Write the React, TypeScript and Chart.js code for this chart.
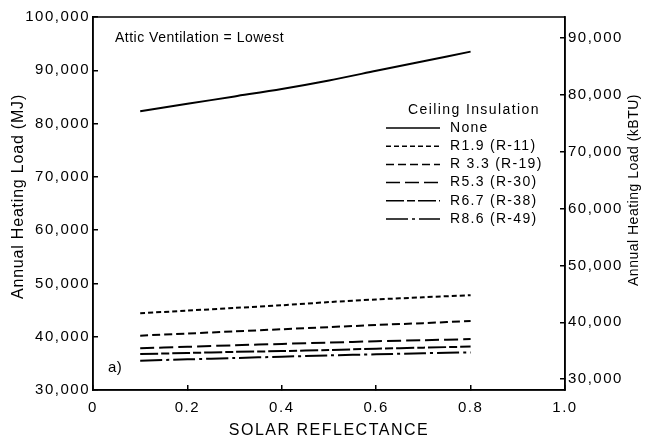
import React, { useEffect, useRef } from "react";
import { Chart, registerables } from "chart.js";

Chart.register(...registerables);

// ---- data ----
const reflectance = [0.1, 0.2, 0.3, 0.4, 0.5, 0.6, 0.7, 0.8];
const seriesNames = ["None", "R1.9 (R-11)", "R 3.3 (R-19)", "R5.3 (R-30)", "R6.7 (R-38)", "R8.6 (R-49)"];
const loadNone = [82300, 83700, 85100, 86500, 88100, 89900, 91700, 93500];
const loadR11 = [44400, 44900, 45400, 45900, 46500, 47000, 47400, 47800];
const loadR19 = [40200, 40600, 41000, 41400, 41800, 42200, 42550, 42950];
const loadR30 = [37850, 38100, 38400, 38650, 38900, 39150, 39350, 39550];
const loadR38 = [36750, 36950, 37150, 37300, 37500, 37750, 37950, 38150];
const loadR49 = [35500, 35750, 36000, 36250, 36500, 36700, 36900, 37050];
const xTicks = [0, 0.2, 0.4, 0.6, 0.8, 1.0];
const leftTicks = [30000, 40000, 50000, 60000, 70000, 80000, 90000, 100000];
const rightTicks = [30000, 40000, 50000, 60000, 70000, 80000, 90000];

const allSeries = [loadNone, loadR11, loadR19, loadR30, loadR38, loadR49];
const dashes: number[][] = [[], [5, 3], [8, 4], [14, 5], [18, 3, 8, 3], [22, 4, 3, 4]];

const FONT = '"Liberation Sans", Arial, Helvetica, sans-serif';

function drawText(ctx: any, s: string, x: number, y: number, size: number, spacing: number, align: string = "left", rot = 0) {
  ctx.save();
  ctx.font = `${size}px ${FONT}`;
  ctx.letterSpacing = spacing + "px";
  ctx.fillStyle = "#000";
  ctx.textAlign = align;
  ctx.textBaseline = "middle";
  ctx.translate(x, y);
  ctx.rotate(rot);
  ctx.fillText(s, 0, 0);
  ctx.restore();
}

const decorPlugin = {
  id: "decor",
  beforeDraw(chart: any) {
    const ctx = chart.ctx;
    ctx.save();
    ctx.fillStyle = "#fff";
    ctx.fillRect(0, 0, chart.width, chart.height);
    ctx.restore();
    ctx.letterSpacing = "1.5px";
  },
  afterDraw(chart: any) {
    const ctx = chart.ctx;
    const a = chart.chartArea;
    // frame top line
    ctx.save();
    ctx.strokeStyle = "#000";
    ctx.lineWidth = 1.5;
    ctx.strokeRect(a.left, a.top, a.right - a.left, a.bottom - a.top);
    ctx.restore();

    // axis titles
    drawText(ctx, "Annual Heating Load (MJ)", 19, 196.5, 16, 0.8, "center", -Math.PI / 2);
    drawText(ctx, "Annual Heating Load (kBTU)", 634, 190, 14, 0.5, "center", -Math.PI / 2);
    drawText(ctx, "SOLAR REFLECTANCE", (a.left + a.right) / 2, 431, 16, 1.5, "center");

    // annotations
    drawText(ctx, "Attic Ventilation = Lowest", a.left + 22, 38, 14, 0.5, "left");
    drawText(ctx, "a)", a.left + 15, 368, 15, 0.5, "left");

    // legend
    drawText(ctx, "Ceiling Insulation", 408, 110, 14, 1.4, "left");
    chart.data.datasets.forEach((ds: any, i: number) => {
      const y = 128 + i * 18.2;
      ctx.save();
      ctx.strokeStyle = "#000";
      ctx.lineWidth = 1.5;
      ctx.setLineDash(ds.borderDash || []);
      ctx.beginPath();
      ctx.moveTo(386, y);
      ctx.lineTo(440, y);
      ctx.stroke();
      ctx.restore();
      drawText(ctx, ds.label, 450, y, 14, 1.3, "left");
    });
  },
};

const gridOpts = {
  drawOnChartArea: false,
  drawTicks: true,
  tickLength: -5,
  color: "#000",
  lineWidth: 1.5,
};
const borderOpts = { display: true, color: "#000", width: 1.5 };

export default function App() {
  const ref = useRef<HTMLCanvasElement | null>(null);

  useEffect(() => {
    if (!ref.current) return;
    const chart = new Chart(ref.current, {
      type: "line",
      data: {
        datasets: seriesNames.map((name, i) => ({
          label: name,
          data: reflectance.map((x, j) => ({ x, y: allSeries[i][j] })),
          borderColor: "#000",
          borderWidth: 2,
          borderDash: dashes[i],
          pointRadius: 0,
          fill: false,
          tension: 0.3,
          yAxisID: "y",
        })),
      },
      options: {
        animation: false,
        responsive: false,
        devicePixelRatio: 1,
        layout: { padding: { top: 11, left: 0, right: 0, bottom: 0 } },
        plugins: { legend: { display: false }, tooltip: { enabled: false } },
        scales: {
          x: {
            type: "linear",
            position: "bottom",
            min: 0,
            max: 1,
            afterBuildTicks: (s: any) => {
              s.ticks = xTicks.map((v) => ({ value: v }));
            },
            afterFit: (s: any) => {
              s.height = 52;
            },
            grid: gridOpts,
            border: borderOpts,
            ticks: {
              color: "#000",
              font: { family: FONT, size: 15 },
              padding: 14,
              maxRotation: 0,
              autoSkip: false,
              callback: (v: any) => (v === 0 ? "0" : Number(v).toFixed(1)),
            },
          },
          y: {
            type: "linear",
            position: "left",
            min: 30000,
            max: 100000,
            afterBuildTicks: (s: any) => {
              s.ticks = leftTicks.map((v) => ({ value: v }));
            },
            afterFit: (s: any) => {
              s.width = 93;
            },
            grid: gridOpts,
            border: borderOpts,
            ticks: {
              color: "#000",
              font: { family: FONT, size: 15 },
              padding: 8,
              callback: (v: any) => Number(v).toLocaleString("en-US"),
            },
          },
          y2: {
            type: "linear",
            display: true,
            position: "right",
            min: 28100,
            max: 93640,
            afterBuildTicks: (s: any) => {
              s.ticks = rightTicks.map((v) => ({ value: v }));
            },
            afterFit: (s: any) => {
              s.width = 82;
            },
            grid: gridOpts,
            border: borderOpts,
            ticks: {
              color: "#000",
              font: { family: FONT, size: 15 },
              padding: 8,
              callback: (v: any) => Number(v).toLocaleString("en-US"),
            },
          },
        },
      },
      plugins: [decorPlugin],
    } as any);
    return () => chart.destroy();
  }, []);

  return (
    <div style={{ position: "fixed", left: 0, top: 0, width: 647, height: 442 }}>
      <canvas ref={ref} width={647} height={442} style={{ display: "block" }} />
    </div>
  );
}
